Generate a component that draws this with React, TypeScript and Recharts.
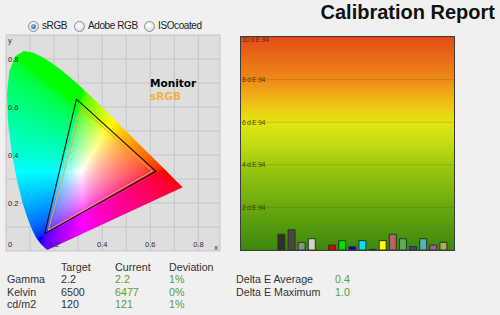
import React from 'react';
import { ScatterChart, Scatter, XAxis, YAxis, CartesianGrid, Legend, BarChart, Bar, Cell } from 'recharts';

document.body.style.margin = '0';
document.body.style.background = '#f0f0f0';

// CIE 1931 spectral locus
const wavelengths = [380, 390, 400, 410, 420, 430, 440, 450, 460, 470, 475, 480, 485, 490, 495, 500, 505, 510, 515, 520, 525, 530, 535, 540, 545, 550, 555, 560, 565, 570, 575, 580, 585, 590, 595, 600, 610, 620, 630, 640, 650, 660, 700];
const locusX = [0.1741, 0.1738, 0.1733, 0.1726, 0.1714, 0.1689, 0.1644, 0.1566, 0.144, 0.1241, 0.1096, 0.0913, 0.0687, 0.0454, 0.0235, 0.0082, 0.0039, 0.0139, 0.0389, 0.0743, 0.1142, 0.1547, 0.1929, 0.2296, 0.2658, 0.3016, 0.3373, 0.3731, 0.4087, 0.4441, 0.4788, 0.5125, 0.5448, 0.5752, 0.6029, 0.627, 0.6658, 0.6915, 0.7079, 0.719, 0.726, 0.73, 0.7347];
const locusY = [0.005, 0.0049, 0.0048, 0.0048, 0.0051, 0.0069, 0.0109, 0.0177, 0.0297, 0.0578, 0.0868, 0.1327, 0.2007, 0.295, 0.4127, 0.5384, 0.6548, 0.7502, 0.812, 0.8338, 0.8262, 0.8059, 0.7816, 0.7543, 0.7243, 0.6923, 0.6589, 0.6245, 0.5896, 0.5547, 0.5202, 0.4866, 0.4544, 0.4242, 0.3965, 0.3725, 0.334, 0.3083, 0.292, 0.2809, 0.274, 0.27, 0.2653];

// gamut triangles (green, red, blue)
const monitorX = [0.293, 0.624, 0.161];
const monitorY = [0.633, 0.332, 0.072];
const srgbX = [0.314, 0.608, 0.176];
const srgbY = [0.596, 0.333, 0.087];

const cieTicks = [0, 0.1, 0.2, 0.3, 0.4, 0.5, 0.6, 0.7, 0.8];
const cieXLabels = ['0', '0.2', '0.4', '0.6', '0.8'];
const cieYLabels = ['0.2', '0.4', '0.6', '0.8'];

const gamutOptions = ['sRGB', 'Adobe RGB', 'ISOcoated'];

// delta E per measured patch (null = gap)
const patchColors = ['#2f2f2f', '#474747', '#8e8e8e', '#d2d2d2', null, '#e00000', '#00e000', '#0000c8', '#00e4ff', '#000000', '#ffff00', '#b86464', '#5cac5c', '#40409a', '#52b2c2', '#b050c4', '#b2aa62'];
const patchDeltaE = [0.74, 0.95, 0.36, 0.53, null, 0.23, 0.44, 0.16, 0.44, 0.03, 0.44, 0.74, 0.53, 0.16, 0.53, 0.23, 0.36];
const deTicks = [0, 2, 4, 6, 8, 10];

const rowLabels = ['Gamma', 'Kelvin', 'cd/m2'];
const targetVals = ['2.2', '6500', '120'];
const currentVals = ['2.2', '6477', '121'];
const deviationVals = ['1%', '0%', '1%'];
const deltaLabels = ['Delta E Average', 'Delta E Maximum'];
const deltaVals = ['0.4', '1.0'];

const X_MAX = 0.89;
const Y_MAX = 0.9;

const locusData = wavelengths.map((nm, i) => ({ nm, x: locusX[i], y: locusY[i] }));
const closed = (xs: number[], ys: number[]) => [...xs, xs[0]].map((x, i) => ({ x, y: [...ys, ys[0]][i] }));
const monitorData = closed(monitorX, monitorY);
const srgbData = closed(srgbX, srgbY);
const patchData = patchDeltaE.map((de, i) => ({ slot: i, de, color: patchColors[i] }));

let cieUrl = '';
function cieImage(w: number, h: number) {
  if (cieUrl) return cieUrl;
  const c = document.createElement('canvas');
  c.width = w;
  c.height = h;
  const ctx = c.getContext('2d');
  if (!ctx) return '';
  const img = ctx.createImageData(w, h);
  const g = (v: number) => Math.round(255 * Math.pow(v, 1 / 2.2));
  for (let j = 0; j < h; j++) {
    for (let i = 0; i < w; i++) {
      const x = ((i + 0.5) / w) * X_MAX;
      const y = Math.max(0.002, Y_MAX * (1 - (j + 0.5) / h));
      const X = x / y;
      const Z = (1 - x - y) / y;
      let r = Math.max(0, 3.2406 * X - 1.5372 - 0.4986 * Z);
      let gg = Math.max(0, -0.9689 * X + 1.8758 + 0.0415 * Z);
      let b = Math.max(0, 0.0557 * X - 0.204 + 1.057 * Z);
      const m = Math.max(r, gg, b, 1e-6);
      r /= m; gg /= m; b /= m;
      const k = (j * w + i) * 4;
      img.data[k] = g(r);
      img.data[k + 1] = g(gg);
      img.data[k + 2] = g(b);
      img.data[k + 3] = 255;
    }
  }
  ctx.putImageData(img, 0, 0);
  cieUrl = c.toDataURL();
  return cieUrl;
}

const renderLocus = (props: any) => {
  const pts = props.points as { x: number; y: number }[];
  if (!pts || pts.length < 3) return <g />;
  const iR = locusX.indexOf(Math.max(...locusX));
  const iT = locusY.indexOf(Math.max(...locusY));
  const bx = (pts[iR].x - pts[0].x) / (locusX[iR] - locusX[0]);
  const ax = pts[0].x - bx * locusX[0];
  const by = (pts[iT].y - pts[0].y) / (locusY[iT] - locusY[0]);
  const ay = pts[0].y - by * locusY[0];
  const d = 'M' + pts.map((p) => `${p.x},${p.y}`).join('L') + 'Z';
  const w = bx * X_MAX;
  const yTop = ay + by * Y_MAX;
  const h = ay - yTop;
  return (
    <g>
      <defs>
        <clipPath id="locus-clip">
          <path d={d} />
        </clipPath>
      </defs>
      <image href={cieImage(Math.round(w), Math.round(h))} x={ax} y={yTop} width={w} height={h} preserveAspectRatio="none" clipPath="url(#locus-clip)" />
    </g>
  );
};

const noDot = () => <g />;

const CieXTick = (p: any) => {
  const v = p.payload.value;
  const label = cieXLabels.find((l) => Math.abs(parseFloat(l) - v) < 1e-6);
  if (!label) return <g />;
  return (
    <text x={v === 0 ? p.x + 2 : p.x} y={p.y - 4} textAnchor={v === 0 ? 'start' : 'middle'} fontSize={7.5} fill="#2a2a2a" fontFamily="Liberation Sans">
      {label}
    </text>
  );
};

const CieYTick = (p: any) => {
  const v = p.payload.value;
  const label = cieYLabels.find((l) => Math.abs(parseFloat(l) - v) < 1e-6);
  if (!label) return <g />;
  return (
    <text x={p.x + 2} y={p.y} dy="0.35em" textAnchor="start" fontSize={7.5} fill="#2a2a2a" fontFamily="Liberation Sans">
      {label}
    </text>
  );
};

const DeTick = (p: any) => {
  const v = p.payload.value;
  if (v === 0) return <g />;
  return (
    <text x={p.x + 1} y={p.y + (v === 10 ? 3 : 0)} dy="0.35em" fontSize={7} fill="#3a2400" fillOpacity={0.85} fontFamily="Liberation Sans" letterSpacing={-0.4}>
      {`${v} d E 94`}
    </text>
  );
};

const Radio = ({ label, checked, left, textLeft }: { label: string; checked: boolean; left: number; textLeft: number }) => (
  <>
    <div style={{ position: 'absolute', left, top: 21, width: 9, height: 9, borderRadius: '50%', border: '1px solid #8a8c8e', background: 'radial-gradient(circle at 40% 35%, #ffffff, #d4d4d4)', display: 'flex', alignItems: 'center', justifyContent: 'center' }}>
      {checked && <div style={{ width: 5, height: 5, borderRadius: '50%', background: 'radial-gradient(circle at 40% 35%, #7ec0ff, #1b4fa8)' }} />}
    </div>
    <div style={{ position: 'absolute', left: textLeft, top: 21, fontSize: 10, lineHeight: '10px', color: '#222', letterSpacing: -0.4, whiteSpace: 'nowrap' }}>{label}</div>
  </>
);

const txt = (left: number, top: number, text: string, color = '#333', size = 10.7) => (
  <div key={`${left}-${top}-${text}`} style={{ position: 'absolute', left, top, fontSize: size, lineHeight: `${size}px`, color, whiteSpace: 'nowrap' }}>
    {text}
  </div>
);

export default function App() {
  const rowTop = [274, 286.5, 299];
  const radioLeft = [28, 74, 144];
  return (
    <div style={{ position: 'relative', width: 500, height: 315, background: '#f0f0f0', fontFamily: '"Liberation Sans", Arial, sans-serif', overflow: 'hidden' }}>
      <div style={{ position: 'absolute', right: 5, top: 2, fontSize: 20, lineHeight: '20px', fontWeight: 'bold', color: '#111' }}>Calibration Report</div>

      {gamutOptions.map((o, i) => (
        <Radio key={o} label={o} checked={i === 0} left={radioLeft[i]} textLeft={radioLeft[i] + 14} />
      ))}

      <div style={{ position: 'absolute', left: 0, top: 30 }}>
        <ScatterChart width={230} height={230} margin={{ top: 5, right: 10, bottom: 8, left: 5 }}>
          <CartesianGrid fill="#dedede" stroke="#c6c6c6" />
          <XAxis type="number" dataKey="x" domain={[0, X_MAX]} ticks={cieTicks} allowDataOverflow height={1} axisLine={false} tickLine={false} tickSize={0} tickMargin={0} tick={CieXTick} interval={0} label={{ value: 'x', position: 'insideBottomRight', offset: 2, fontSize: 7.5, fill: '#2a2a2a' }} />
          <YAxis type="number" dataKey="y" domain={[0, Y_MAX]} ticks={cieTicks} allowDataOverflow width={1} axisLine={false} tickLine={false} tickSize={0} tickMargin={0} tick={CieYTick} interval={0} label={{ value: 'y', position: 'insideTopLeft', offset: 3, fontSize: 7.5, fill: '#2a2a2a' }} />
          <Scatter name="locus" data={locusData} line={renderLocus} lineJointType="linear" shape={noDot} legendType="none" isAnimationActive={false} />
          <Scatter name="Monitor" data={monitorData} fill="#000000" line={{ stroke: '#111111', strokeWidth: 1.1 }} lineJointType="linear" shape={noDot} isAnimationActive={false} />
          <Scatter name="sRGB" data={srgbData} fill="#f2b041" line={{ stroke: '#eea640', strokeWidth: 1 }} lineJointType="linear" shape={noDot} isAnimationActive={false} />
          <Legend
            layout="horizontal"
            verticalAlign="middle"
            align="center"
            wrapperStyle={{ position: 'absolute', left: 150, top: 47, width: 'auto' }}
            content={(p: any) => (
              <div style={{ fontFamily: '"DejaVu Sans", sans-serif', fontWeight: 'bold', fontSize: 10.5, lineHeight: '12.5px' }}>
                {(p.payload || [])
                  .filter((e: any) => e.type !== 'none' && e.value !== 'locus')
                  .map((e: any) => (
                    <div key={e.value} style={{ color: e.color }}>
                      {e.value}
                    </div>
                  ))}
              </div>
            )}
          />
        </ScatterChart>
      </div>

      <div style={{ position: 'absolute', left: 241, top: 37, width: 213, height: 213, outline: '1px solid #3c3c3c' }}>
        <BarChart width={213} height={213} data={patchData} margin={{ top: 0, right: 0, bottom: 0, left: -1 }}>
          <defs>
            <linearGradient id="deGrad" x1="0" y1="0" x2="0" y2="1">
              <stop offset="0%" stopColor="#e44c16" />
              <stop offset="20%" stopColor="#ef8a18" />
              <stop offset="32%" stopColor="#eec414" />
              <stop offset="40%" stopColor="#e2e612" />
              <stop offset="50%" stopColor="#c4dc12" />
              <stop offset="62%" stopColor="#98c610" />
              <stop offset="80%" stopColor="#68a90e" />
              <stop offset="100%" stopColor="#3c880e" />
            </linearGradient>
          </defs>
          <CartesianGrid vertical={false} fill="url(#deGrad)" stroke="#5a4a00" strokeOpacity={0.22} />
          <XAxis type="number" dataKey="slot" domain={[-3.95, 17.09]} allowDataOverflow hide />
          <YAxis type="number" domain={[0, 10]} ticks={deTicks} width={1} axisLine={false} tickLine={false} tickSize={0} tickMargin={0} tick={DeTick} interval={0} />
          <Bar dataKey="de" barSize={7} stroke="#2a3818" strokeWidth={1} isAnimationActive={false}>
            {patchData.map((d, i) => (
              <Cell key={i} fill={d.color || 'none'} />
            ))}
          </Bar>
        </BarChart>
      </div>

      {txt(61, 261.7, 'Target')}
      {txt(115, 261.7, 'Current')}
      {txt(169, 261.7, 'Deviation')}
      {rowLabels.map((l, i) => txt(7, rowTop[i], l))}
      {targetVals.map((v, i) => txt(61, rowTop[i], v))}
      {currentVals.map((v, i) => txt(115, rowTop[i], v, '#5aa02c'))}
      {deviationVals.map((v, i) => txt(169, rowTop[i], v, '#5aa02c'))}
      {deltaLabels.map((l, i) => txt(236, rowTop[i], l))}
      {deltaVals.map((v, i) => txt(335, rowTop[i], v, '#5aa02c'))}
    </div>
  );
}
